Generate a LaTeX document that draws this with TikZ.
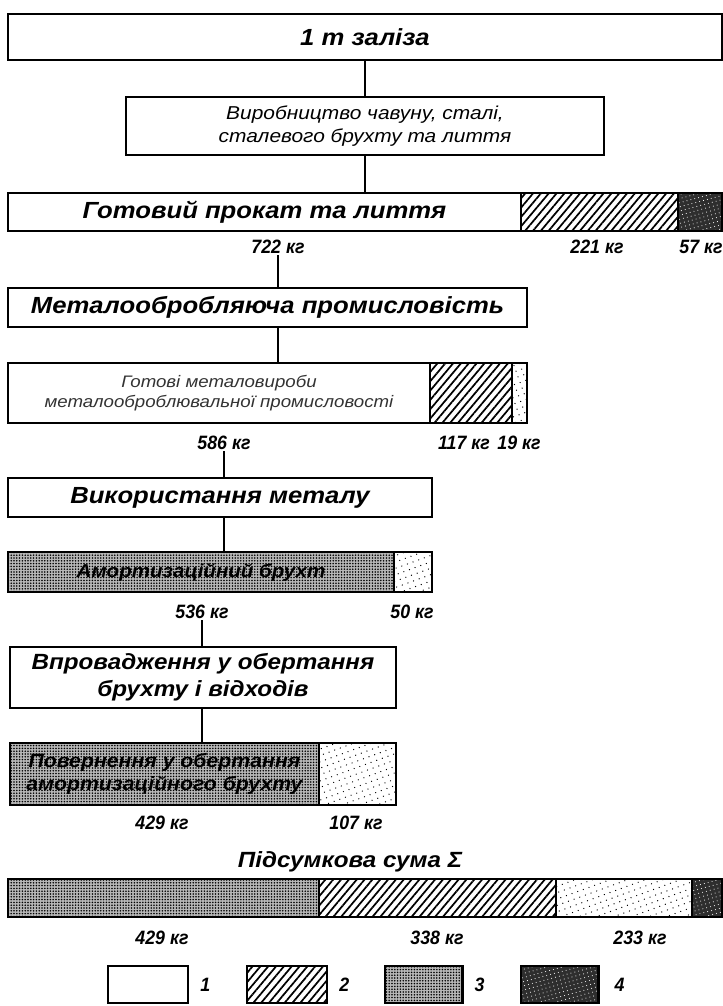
\documentclass[tikz,border=0pt]{standalone}
\usepackage{fontspec}
\setmainfont{Liberation Sans}
\newfontfamily\hfont[FakeStretch=1.1]{Liberation Sans}
\newfontfamily\sfont[FakeStretch=1.12]{Liberation Sans}
\newfontfamily\nfont[FakeStretch=0.92]{Liberation Sans}
\usetikzlibrary{patterns.meta}
\tikzset{
  seg/.style={draw, line width=1.8pt, inner sep=0pt, outer sep=0pt, anchor=north west, align=center},
  plain/.style={seg, fill=white},
  hatch/.style={seg, preaction={fill=white}, pattern={Lines[angle=50,distance=4.5pt,line width=1.3pt]}},
  stip/.style={seg, preaction={fill=black!28}, pattern={Dots[distance=2.1pt,radius=0.65pt]}},
  light/.style={seg, preaction={fill=white}, pattern={Dots[distance=4.5pt,radius=0.5pt,angle=20]}},
  dark/.style={seg, preaction={fill=black!82}, pattern={Dots[distance=3pt,radius=0.4pt,angle=15]}, pattern color=white},
  head/.style={font=\hfont\bfseries\itshape\fontsize{17.5}{21}\selectfont},
  sub/.style={font=\sfont\itshape\fontsize{14}{17.5}\selectfont},
  thin/.style={font=\sfont\itshape\fontsize{12.5}{15.5}\selectfont, text=black!80},
  num/.style={font=\nfont\bfseries\itshape\fontsize{14.5}{16}\selectfont, inner sep=1pt},
  conn/.style={line width=1.4pt},
}
\begin{document}
\begin{tikzpicture}[x=0.75pt,y=-0.75pt]
\useasboundingbox (0,0) rectangle (723,1006);

% top
\node[plain, head, minimum width=535.5pt, minimum height=34.5pt] (iron) at (8,14) {1 т заліза};
\node[plain, sub, minimum width=358.5pt, minimum height=43.5pt] (prod) at (126,97) {Виробництво чавуну, сталі,\\сталевого брухту та лиття};

% bar 1
\node[plain, head, minimum width=384.75pt, minimum height=28.5pt] (r1a) at (8,193) {Готовий прокат та лиття};
\node[hatch, minimum width=117.75pt, minimum height=28.5pt] (r1b) at (521,193) {};
\node[dark, minimum width=33pt, minimum height=28.5pt] (r1c) at (678,193) {};
\node[num] (l722) at (278,247) {722 кг};
\node[num] (l221) at (597,247) {221 кг};
\node[num] (l57) at (701,247) {57 кг};

% metalworking
\node[plain, head, minimum width=389.25pt, minimum height=29.25pt] (metal) at (8,288) {Металообробляюча промисловість};

% bar 2
\node[plain, thin, minimum width=316.5pt, minimum height=45pt] (r2a) at (8,363) {Готові металовироби\\металооброблювальної промисловості};
\node[hatch, minimum width=61.5pt, minimum height=45pt] (r2b) at (430,363) {};
\node[light, minimum width=11.25pt, minimum height=45pt] (r2c) at (512,363) {};
\node[num] (l586) at (224,443) {586 кг};
\node[num] (l117) at (464,443) {117 кг};
\node[num] (l19) at (519,443) {19 кг};

% use of metal
\node[plain, head, minimum width=318pt, minimum height=29.25pt] (use) at (8,478) {Використання металу};

% bar 3
\node[stip, minimum width=289.5pt, minimum height=30pt] (r3a) at (8,552) {};
\node[font=\hfont\bfseries\itshape\fontsize{14}{17}\selectfont] (t3) at (r3a.center) {Амортизаційний брухт};
\node[light, minimum width=28.5pt, minimum height=30pt] (r3b) at (394,552) {};
\node[num] (l536) at (202,612) {536 кг};
\node[num] (l50) at (412,612) {50 кг};

% return to circulation
\node[plain, font=\hfont\bfseries\itshape\fontsize{16.5}{20}\selectfont, minimum width=289.5pt, minimum height=45.75pt] (ret) at (10,647) {Впровадження у обертання\\брухту і відходів};

% bar 4
\node[stip, minimum width=231.75pt, minimum height=46.5pt] (r4a) at (10,743) {};
\node[font=\hfont\bfseries\itshape\fontsize{14.5}{17.5}\selectfont, align=center] (t4) at (r4a.center) {Повернення у обертання\\амортизаційного брухту};
\node[light, minimum width=57.75pt, minimum height=46.5pt] (r4b) at (319,743) {};
\node[num] (l429a) at (162,823) {429 кг};
\node[num] (l107) at (356,823) {107 кг};

% total
\node[font=\hfont\bfseries\itshape\fontsize{16.5}{19}\selectfont] (sum) at (350,862) {Підсумкова сума Σ};
\node[stip, minimum width=233.25pt, minimum height=28.5pt] (r5a) at (8,879) {};
\node[hatch, minimum width=177.75pt, minimum height=28.5pt] (r5b) at (319,879) {};
\node[light, minimum width=102pt, minimum height=28.5pt] (r5c) at (556,879) {};
\node[dark, minimum width=22.5pt, minimum height=28.5pt] (r5d) at (692,879) {};
\node[num] (l429b) at (162,938) {429 кг};
\node[num] (l338) at (437,938) {338 кг};
\node[num] (l233) at (640,938) {233 кг};

% legend
\node[plain, minimum width=60pt, minimum height=27.75pt] (k1) at (108,966) {};
\node[hatch, minimum width=60pt, minimum height=27.75pt] (k2) at (247,966) {};
\node[stip, minimum width=58pt, minimum height=27.75pt] (k3) at (385,966) {};
\node[dark, minimum width=58pt, minimum height=27.75pt] (k4) at (521,966) {};
\node[num, anchor=west] (n1) at ([xshift=8pt]k1.east) {1};
\node[num, anchor=west] (n2) at ([xshift=8pt]k2.east) {2};
\node[num, anchor=west] (n3) at ([xshift=8pt]k3.east) {3};
\node[num, anchor=west] (n4) at ([xshift=11pt]k4.east) {4};

% connectors
\draw[conn] (iron.south) -- (prod.north);
\draw[conn] (prod.south) -- (prod.south |- r1a.north);
\draw[conn] (l722.south) -- (l722.south |- metal.north);
\draw[conn] (l722 |- metal.south) -- (l722 |- r2a.north);
\draw[conn] (l586.south) -- (l586.south |- use.north);
\draw[conn] (l586 |- use.south) -- (l586 |- r3a.north);
\draw[conn] (l536.south) -- (l536.south |- ret.north);
\draw[conn] (l536 |- ret.south) -- (l536 |- r4a.north);
\end{tikzpicture}
\end{document}
